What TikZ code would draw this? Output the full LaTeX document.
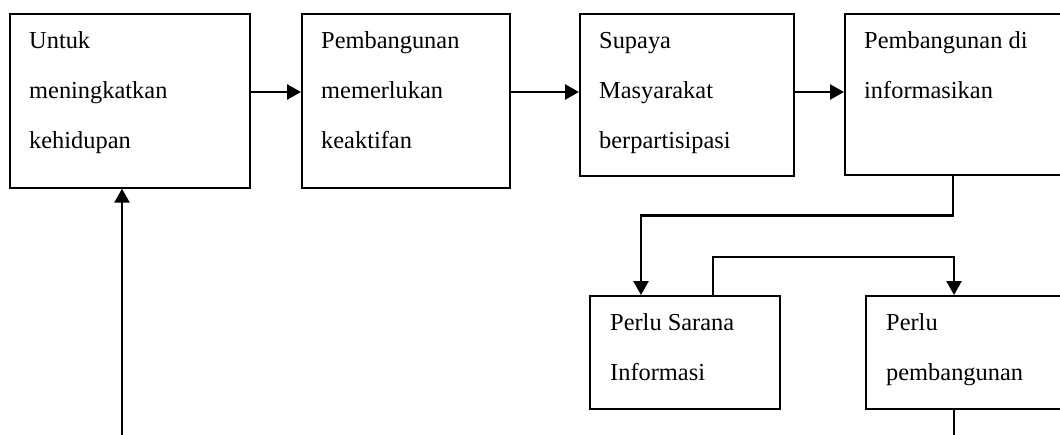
\documentclass[tikz,border=0pt]{standalone}
\usepackage{fontspec}
\setmainfont{Liberation Serif}
\usetikzlibrary{arrows.meta,calc}
\begin{document}
\begin{tikzpicture}[x=1pt,y=1pt,
  boxnode/.style={draw,line width=1.7pt,rectangle,inner sep=0pt,anchor=north west},
  txt/.style={anchor=base west,inner sep=0pt,align=left,font=\fontsize{24.4pt}{50pt}\selectfont},
  conn/.style={line width=2.6pt},
  arr/.style={conn,-{Triangle[length=14pt,width=15pt]}}]
\useasboundingbox (0,0) rectangle (1060,-434);
\clip (0,0) rectangle (1060,-434);
% boxes
\node[boxnode,minimum width=240pt,minimum height=174pt] (b1) at (9,-13) {};
\node[boxnode,minimum width=208pt,minimum height=174pt] (b2) at (301,-13) {};
\node[boxnode,minimum width=214pt,minimum height=162pt] (b3) at (579,-13) {};
\node[boxnode,minimum width=240pt,minimum height=161pt] (b4) at (844,-13) {};
\node[boxnode,minimum width=190pt,minimum height=113pt] (b5) at (589,-295) {};
\node[boxnode,minimum width=220pt,minimum height=113pt] (b6) at (865,-295) {};
% texts (base anchor = last line's baseline)
\node[txt] (t1) at ($(b1.north west)+(20,-135)$) {Untuk\\meningkatkan\\kehidupan};
\node[txt] (t2) at ($(b2.north west)+(20,-135)$) {Pembangunan\\memerlukan\\keaktifan};
\node[txt] (t3) at ($(b3.north west)+(20,-135)$) {Supaya\\Masyarakat\\berpartisipasi};
\node[txt] (t4) at ($(b4.north west)+(20,-85)$) {Pembangunan di\\informasikan};
\node[txt] (t5) at ($(b5.north west)+(21,-85)$) {Perlu Sarana\\Informasi};
\node[txt] (t6) at ($(b6.north west)+(21,-85)$) {Perlu\\pembangunan};
% connectors
\draw[arr] (b1.east |- 0,-92) -- (b2.west |- 0,-92);
\draw[arr] (b2.east |- 0,-92) -- (b3.west |- 0,-92);
\draw[arr] (b3.east |- 0,-92) -- (b4.west |- 0,-92);
\draw[arr] ([xshift=109pt]b4.south west) -- ++(0,-40) -| ([xshift=52pt]b5.north west);
\draw[arr] ([xshift=124pt]b5.north west) -- ++(0,38) -| ([xshift=89pt]b6.north west);
\coordinate (bend) at ([xshift=89pt,yshift=-40pt]b6.south west);
\draw[conn] ([xshift=89pt]b6.south west) -- (bend);
\coordinate (start) at (122,-440);
\draw[arr] (start) -- (start |- b1.south);
\end{tikzpicture}
\end{document}
